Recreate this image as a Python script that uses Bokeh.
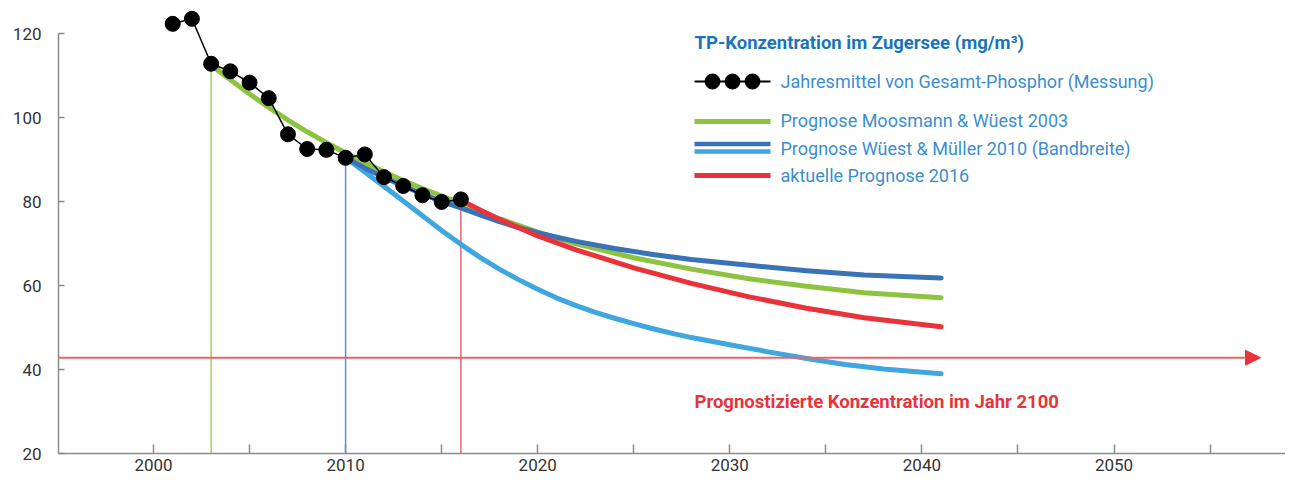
from bokeh.plotting import figure
from bokeh.embed import file_html
from bokeh.resources import INLINE
from bokeh.models import Range1d, FixedTicker, Arrow, NormalHead
from bokeh.core.properties import value

# ---------------- data ----------------
meas_years = [2001, 2002, 2003, 2004, 2005, 2006, 2007, 2008, 2009, 2010,
              2011, 2012, 2013, 2014, 2015, 2016]
meas_vals = [122.3, 123.5, 112.8, 111.0, 108.3, 104.6, 96.0, 92.5, 92.3, 90.4,
             91.2, 85.8, 83.7, 81.5, 79.9, 80.5]

green_years = [2003, 2004, 2005, 2006, 2007, 2008, 2009, 2010, 2011, 2012, 2013,
               2014, 2015, 2016, 2018, 2020, 2022, 2025, 2028, 2031, 2034, 2037, 2041]
green_vals = [112.5, 109.0, 105.6, 102.4, 99.4, 96.6, 94.0, 91.6, 89.3, 87.1, 85.0,
              83.1, 81.3, 79.6, 75.9, 72.7, 69.9, 66.6, 63.9, 61.6, 59.8, 58.3, 57.1]

dblue_years = [2010, 2011, 2012, 2013, 2014, 2015, 2016, 2017, 2018, 2019, 2020,
               2021, 2022, 2024, 2026, 2028, 2031, 2034, 2037, 2041]
dblue_vals = [90.4, 88.0, 85.8, 83.7, 81.8, 80.0, 78.5, 76.8, 75.2, 73.8, 72.6,
              71.5, 70.5, 68.8, 67.4, 66.2, 64.8, 63.5, 62.5, 61.8]

lblue_years = [2010, 2011, 2012, 2013, 2014, 2015, 2016, 2017, 2018, 2019, 2020,
               2021, 2022, 2023, 2024, 2025, 2026, 2027, 2028, 2030, 2032, 2034,
               2036, 2038, 2041]
lblue_vals = [90.4, 87.0, 83.6, 80.1, 76.6, 73.1, 69.8, 66.7, 63.9, 61.4, 59.1,
              57.0, 55.2, 53.6, 52.2, 50.9, 49.7, 48.6, 47.6, 45.9, 44.2, 42.6,
              41.2, 40.1, 39.0]

red_years = [2016, 2017, 2018, 2020, 2022, 2025, 2028, 2031, 2034, 2037, 2041]
red_vals = [80.3, 78.0, 75.8, 71.8, 68.5, 64.2, 60.5, 57.3, 54.6, 52.3, 50.2]

target_2100 = 42.8

x_ticks = [2000, 2005, 2010, 2015, 2020, 2025, 2030, 2035, 2040, 2045, 2050, 2055]
x_labeled = [2000, 2010, 2020, 2030, 2040, 2050]
y_ticks = [20, 40, 60, 80, 100, 120]

title_text = "TP-Konzentration im Zugersee (mg/m³)"
legend_labels = ["Jahresmittel von Gesamt-Phosphor (Messung)",
                 "Prognose Moosmann & Wüest 2003",
                 "Prognose Wüest & Müller 2010 (Bandbreite)",
                 "aktuelle Prognose 2016"]
note_text = "Prognostizierte Konzentration im Jahr 2100"

# ---------------- colours ----------------
GREEN = "#8dc33f"
DBLUE = "#3a72b8"
LBLUE = "#3fa6df"
RED = "#e8333b"
AXIS = "#8a8a8a"
FONT = "Roboto"

# ---------------- layout helpers (picture px -> data) ----------------
FRAME_LEFT, FRAME_BOTTOM = 58, 453
W, H = 1285, 480
PX_PER_YEAR = 19.21
PX_PER_UNIT = 4.2
X_START = 2000 - (153 - FRAME_LEFT) / PX_PER_YEAR
X_END = 2000 + (W - 153) / PX_PER_YEAR
Y_START = 20.0
Y_END = Y_START + FRAME_BOTTOM / PX_PER_UNIT


def dx(px):
    return X_START + (px - FRAME_LEFT) / PX_PER_YEAR


def dy(py):
    return Y_START + (FRAME_BOTTOM - py) / PX_PER_UNIT


p = figure(width=W, height=H,
           x_range=Range1d(X_START, X_END), y_range=Range1d(Y_START, Y_END),
           output_backend="svg", toolbar_location=None,
           min_border_left=FRAME_LEFT, min_border_right=0, min_border_top=0,
           min_border_bottom=H - FRAME_BOTTOM)
p.outline_line_color = None
p.grid.visible = False
p.background_fill_color = "white"
p.border_fill_color = "white"

# axes
p.xaxis.ticker = FixedTicker(ticks=x_ticks)
p.xaxis.major_label_overrides = {t: ("" if t not in x_labeled else str(t)) for t in x_ticks}
p.xaxis.major_tick_in = 9
p.xaxis.major_tick_out = 0
p.xaxis.minor_tick_line_color = None
p.xaxis.major_label_standoff = 5
p.yaxis.ticker = FixedTicker(ticks=y_ticks)
p.yaxis.bounds = (20, 120)
p.yaxis.major_tick_in = 6
p.yaxis.major_tick_out = 0
p.yaxis.minor_tick_line_color = None
p.yaxis.major_label_standoff = 17
for ax in (p.xaxis, p.yaxis):
    ax.axis_line_color = AXIS
    ax.axis_line_width = 1.5
    ax.major_tick_line_color = AXIS
    ax.major_tick_line_width = 1.5
    ax.major_label_text_font = FONT
    ax.major_label_text_font_size = "17px"
    ax.major_label_text_color = "#333333"

# vertical start lines
p.segment(x0=[green_years[0]], y0=[Y_START], x1=[green_years[0]], y1=[green_vals[0]],
          line_color="#a2cf5c", line_width=1.5)
p.segment(x0=[dblue_years[0]], y0=[Y_START], x1=[dblue_years[0]], y1=[dblue_vals[0]],
          line_color="#5b8fd2", line_width=1.5)
p.segment(x0=[red_years[0]], y0=[Y_START], x1=[red_years[0]], y1=[red_vals[0]],
          line_color="#e5676d", line_width=1.5)

# 2100 target arrow
p.add_layout(Arrow(end=NormalHead(size=15, fill_color=RED, line_color=RED, line_width=1),
                   x_start=X_START, y_start=target_2100, x_end=dx(1260), y_end=target_2100,
                   line_color="#e8646b", line_width=2))

# forecast curves
for xs, ys, col in ((green_years, green_vals, GREEN),
                    (lblue_years, lblue_vals, LBLUE),
                    (dblue_years, dblue_vals, DBLUE),
                    (red_years, red_vals, RED)):
    p.line(xs, ys, line_color=col, line_width=5, line_cap="round", line_join="round")

# measurement
p.line(meas_years, meas_vals, line_color="black", line_width=1.5)
p.scatter(meas_years, meas_vals, size=15, fill_color="black", line_color="black")

# ---------------- legend ----------------
p.text(x=[dx(694)], y=[dy(42)], text=[title_text], text_font=value(FONT),
       text_font_style="bold", text_font_size="18.5px", text_color="#1a74ba",
       text_baseline="middle", text_align="left")

# swatches
p.line([dx(694), dx(770)], [dy(81), dy(81)], line_color="black", line_width=2)
p.scatter([dx(712), dx(732), dx(752)], [dy(81)] * 3, size=15,
          fill_color="black", line_color="black")
p.line([dx(694), dx(770)], [dy(121), dy(121)], line_color=GREEN, line_width=5)
p.line([dx(694), dx(770)], [dy(143.5), dy(143.5)], line_color=DBLUE, line_width=4.5)
p.line([dx(694), dx(770)], [dy(151), dy(151)], line_color=LBLUE, line_width=4.5)
p.line([dx(694), dx(770)], [dy(175), dy(175)], line_color=RED, line_width=5)

label_y = [81, 120, 147.5, 175]
p.text(x=[dx(780)] * 4, y=[dy(v) for v in label_y], text=legend_labels,
       text_font=value(FONT), text_font_size="18px", text_color="#3b8ed0",
       text_baseline="middle", text_align="left")

p.text(x=[dx(694)], y=[dy(401)], text=[note_text], text_font=value(FONT),
       text_font_style="bold", text_font_size="18.5px", text_color=RED,
       text_baseline="middle", text_align="left")

open("out.html", "w").write(file_html(p, INLINE))
